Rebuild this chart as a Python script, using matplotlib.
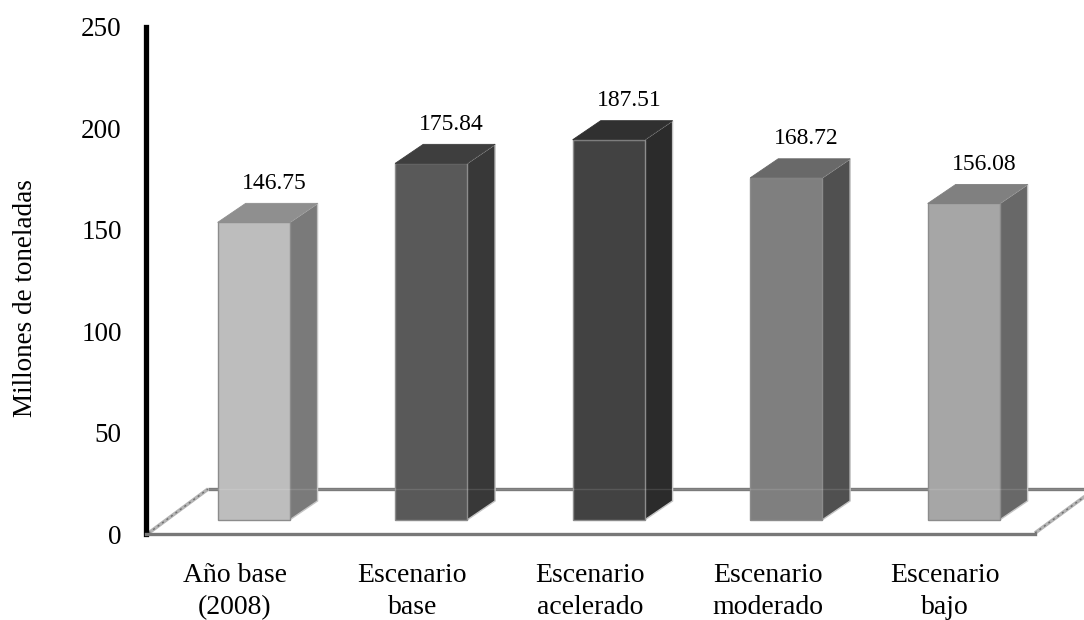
import matplotlib
matplotlib.use('Agg')
import matplotlib.pyplot as plt
from matplotlib.patches import Polygon

plt.rcParams['font.family'] = ['Liberation Serif', 'DejaVu Serif']

categories = ['Año base\n(2008)', 'Escenario\nbase', 'Escenario\nacelerado', 'Escenario\nmoderado', 'Escenario\nbajo']
values = [146.75, 175.84, 187.51, 168.72, 156.08]
front_colors = ['#bdbdbd', '#595959', '#424242', '#7f7f7f', '#a6a6a6']
side_colors = ['#7a7a7a', '#383838', '#2b2b2b', '#505050', '#686868']
top_colors = ['#8f8f8f', '#3e3e3e', '#303030', '#696969', '#808080']
yticks = [0, 50, 100, 150, 200, 250]

# fake 3d depth, all in data units
bar_width = 0.405
bar_shift = 0.105
depth_x = 0.158
depth_y = 9.4
lift = 6.9
floor_x = 0.35
floor_y = 22.2

fig = plt.figure(figsize=(10.84, 6.2), dpi=100)
ax = fig.add_axes([146 / 1084, 1 - 534 / 620, 889 / 1084, 507 / 620])
ax.set_xlim(-0.501, 4.507)
ax.set_ylim(0, 250)

# floor of the 3d box
xl, xr = ax.get_xlim()
ax.plot([xl + floor_x, xr + 0.28], [floor_y, floor_y], color='#787878', lw=2.4, zorder=1, clip_on=False,
        solid_capstyle='butt')
for x0, x1, y1 in [(xl + 0.015, xl + floor_x, floor_y), (xr, xr + 0.28, 18.5)]:
    ax.plot([x0, x1], [0.5, y1], color='#b4b4b4', lw=2.6, zorder=1, clip_on=False, solid_capstyle='butt')
    ax.plot([x0, x1], [0.5, y1], color='#6e6e6e', lw=1.0, ls=(0, (1.5, 2.5)), zorder=1, clip_on=False)

for i, val in enumerate(values):
    left = i + bar_shift - bar_width / 2
    right = left + bar_width
    top = lift + val
    ax.bar(left, val, width=bar_width, bottom=lift, align='edge', color=front_colors[i],
           edgecolor='#8c8c8c', linewidth=1.0, zorder=3)
    ax.add_patch(Polygon([(right, lift), (right + depth_x, lift + depth_y),
                          (right + depth_x, top + depth_y), (right, top)],
                         facecolor=side_colors[i], edgecolor='#c4c4c4', linewidth=1.0, zorder=2))
    ax.add_patch(Polygon([(left, top), (left + depth_x, top + depth_y),
                          (right + depth_x, top + depth_y), (right, top)],
                         facecolor=top_colors[i], edgecolor=top_colors[i], linewidth=0.6, zorder=4))
    ax.text(i + bar_shift + 0.115, top + 19.2, f'{val:.2f}', ha='center', va='center', fontsize=17, zorder=5)

# faint floor line showing through the bars
ax.plot([xl + floor_x, xr + 0.28], [floor_y, floor_y], color='white', lw=1.0, alpha=0.12, zorder=6,
        clip_on=False)

ax.set_xticks(range(len(categories)))
ax.set_xticklabels(categories, fontsize=20, linespacing=1.36)
ax.set_yticks(yticks)
ax.tick_params(axis='y', length=0, pad=17.5, labelsize=19.5)
ax.tick_params(axis='x', length=0, pad=21)
ax.set_ylabel('Millones de toneladas', fontsize=19.5)
ax.yaxis.set_label_coords(-0.122, 0.465)

for s in ['top', 'right']:
    ax.spines[s].set_visible(False)
ax.spines['left'].set_color('black')
ax.spines['left'].set_linewidth(3.8)
ax.spines['bottom'].set_color('#787878')
ax.spines['bottom'].set_linewidth(2.4)

fig.savefig('out.png', dpi=100)
